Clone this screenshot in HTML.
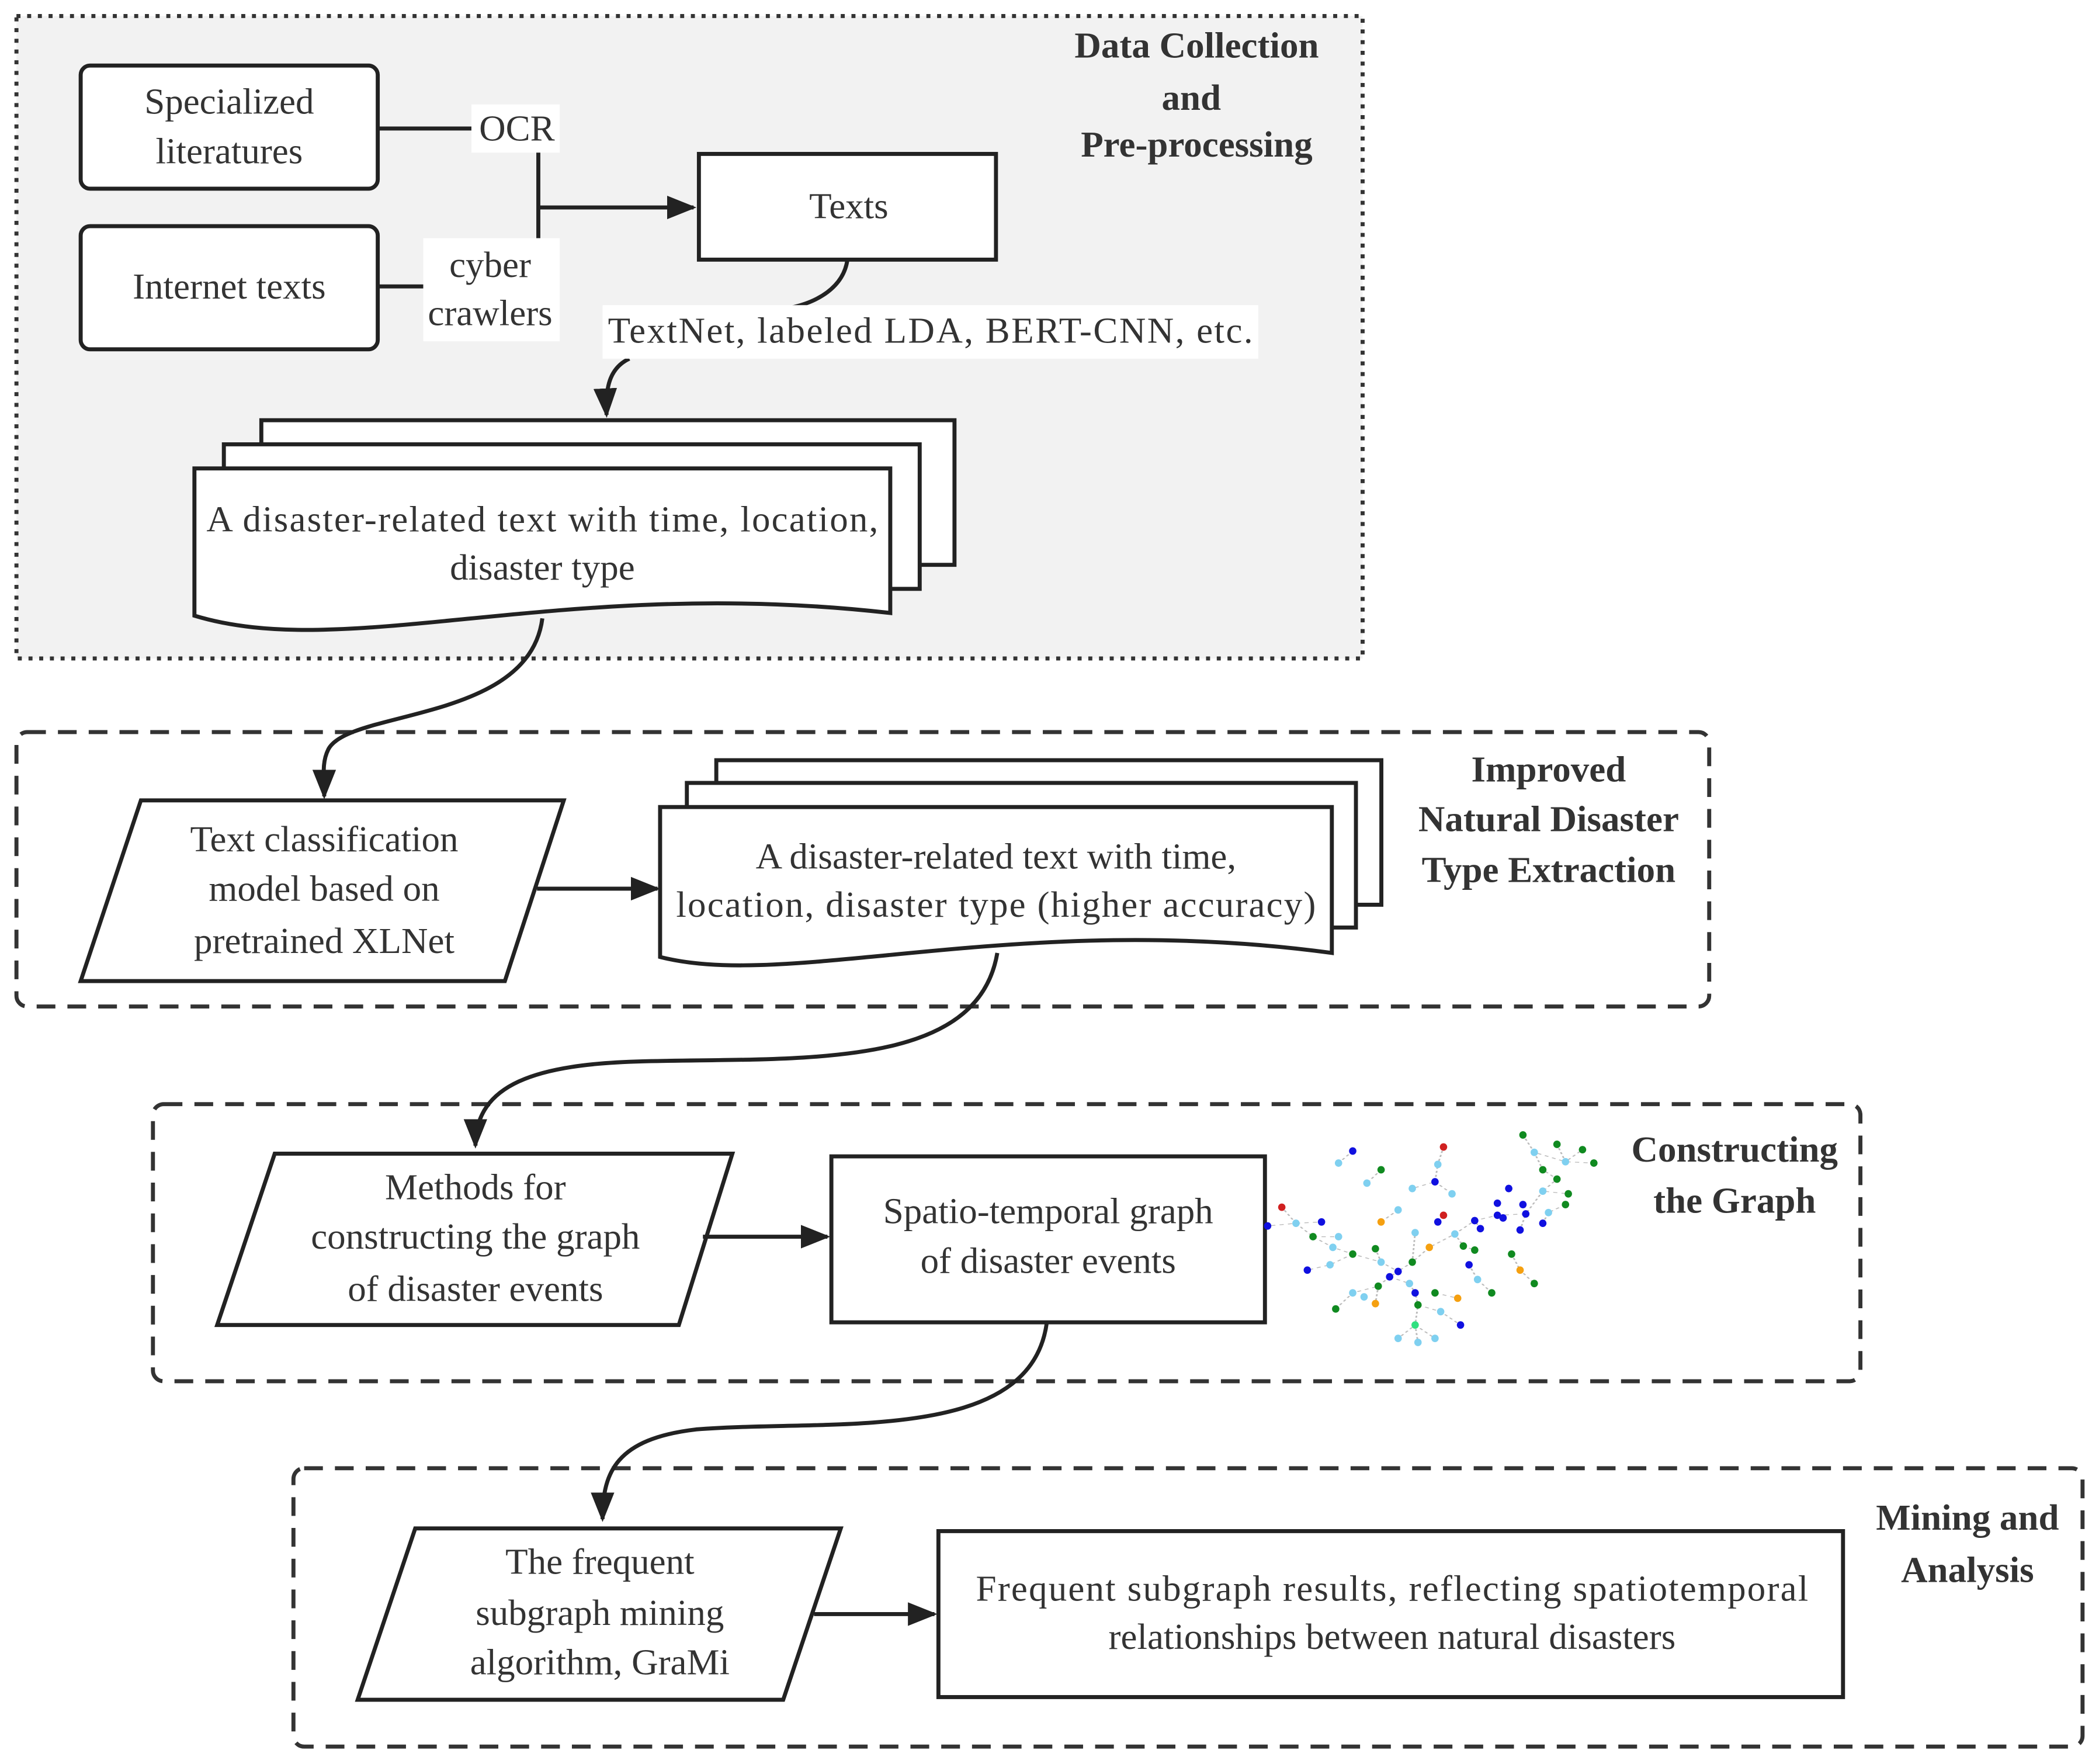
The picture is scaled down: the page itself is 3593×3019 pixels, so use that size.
<!DOCTYPE html>
<html><head><meta charset="utf-8"><style>html,body{margin:0;padding:0;background:#fff}svg{display:block}svg text{font-family:"Liberation Serif","DejaVu Serif",serif}</style></head>
<body>
<svg width="3593" height="3019" viewBox="0 0 1568 1318" xmlns="http://www.w3.org/2000/svg" font-size="27.5" fill="none">
<defs>
<marker id="b" viewBox="0 0 10 10" refX="9" refY="5" markerWidth="22" markerHeight="22" markerUnits="userSpaceOnUse" orient="auto"><path d="M0,1 L10,5 L0,9 z" fill="#222"/></marker>
</defs>
<g stroke="#222" stroke-width="3">
<rect x="12" y="12" width="1006" height="480" fill="#f2f2f2" stroke="#333" stroke-dasharray="3,5"/>
<rect x="12" y="547" width="1265" height="205" rx="8" stroke="#333" stroke-dasharray="14,9"/>
<rect x="114" y="825" width="1276" height="207" rx="8" stroke="#333" stroke-dasharray="14,9"/>
<rect x="219" y="1097" width="1337" height="208" rx="8" stroke="#333" stroke-dasharray="14,9"/>

<rect x="60" y="49" width="222" height="92" rx="7" fill="#fff"/>
<rect x="60" y="169" width="222" height="92" rx="7" fill="#fff"/>
<rect x="522" y="115" width="222" height="79" fill="#fff"/>
<line x1="282" y1="96" x2="352" y2="96"/>
<line x1="282" y1="214" x2="316" y2="214"/>
<line x1="402" y1="114" x2="402" y2="178"/>
<line x1="402" y1="155" x2="518" y2="155" marker-end="url(#b)"/>
<path d="M633,194 C630,215 610,226 590,230"/>
<path d="M470,268 C455,275 452,290 453,310" marker-end="url(#b)"/>

<path d="M195,332 V314 H713 V422 H687" fill="#fff"/>
<path d="M167,350 V332 H687 V440 H665" fill="#fff"/>
<path d="M145,350 H665 V458 C420,430 260,495 145,460 Z" fill="#fff"/>
<path d="M405,462 C395,540 260,530 245,560 C240,570 242,580 242,595" marker-end="url(#b)"/>

<path d="M105,598 H421 L377,733 H60 Z" fill="#fff"/>
<line x1="401" y1="664" x2="491" y2="664" marker-end="url(#b)"/>
<path d="M535,585 V568 H1032 V676 H1013" fill="#fff"/>
<path d="M513,603 V585 H1013 V693 H995" fill="#fff"/>
<path d="M493,603 H995 V712 C760,680 590,740 493,715 Z" fill="#fff"/>
<path d="M745,712 C730,800 600,790 480,793 C400,795 355,810 355,856" marker-end="url(#b)"/>

<path d="M205,862 H547 L507,990 H162 Z" fill="#fff"/>
<line x1="525" y1="924" x2="618" y2="924" marker-end="url(#b)"/>
<rect x="621" y="864" width="324" height="124" fill="#fff"/>
<path d="M782,988 C770,1080 620,1060 520,1068 C460,1075 450,1100 450,1135" marker-end="url(#b)"/>

<path d="M310,1142 H628 L585,1270 H267 Z" fill="#fff"/>
<line x1="608" y1="1206" x2="698" y2="1206" marker-end="url(#b)"/>
<rect x="701" y="1144" width="676" height="124" fill="#fff"/>
</g>

<rect x="352" y="78" width="66" height="36" fill="#fff"/>
<rect x="316" y="178" width="102" height="77" fill="#fff"/>
<rect x="450" y="228" width="490" height="40" fill="#fff"/>

<g fill="#333" text-anchor="middle">
<text x="171" y="85">Specialized</text><text x="171" y="122">literatures</text>
<text x="171" y="223">Internet texts</text>
<text x="386" y="105">OCR</text>
<text x="366" y="207">cyber</text><text x="366" y="243">crawlers</text>
<text x="634" y="163">Texts</text>
<text x="695" y="256" textLength="482">TextNet, labeled LDA, BERT-CNN, etc.</text>
<text x="405" y="397" textLength="502">A disaster-related text with time, location,</text><text x="405" y="433">disaster type</text>
<text x="242" y="636">Text classification</text><text x="242" y="673">model based on</text><text x="242" y="712">pretrained XLNet</text>
<text x="744" y="649">A disaster-related text with time,</text><text x="744" y="685" textLength="478">location, disaster type (higher accuracy)</text>
<text x="355" y="896">Methods for</text><text x="355" y="933">constructing the graph</text><text x="355" y="972">of disaster events</text>
<text x="783" y="914">Spatio-temporal graph</text><text x="783" y="951">of disaster events</text>
<text x="448" y="1176">The frequent</text><text x="448" y="1214">subgraph mining</text><text x="448" y="1251">algorithm, GraMi</text>
<text x="1040" y="1196" textLength="622">Frequent subgraph results, reflecting spatiotemporal</text><text x="1040" y="1232">relationships between natural disasters</text>
</g>
<g fill="#333" text-anchor="middle" font-weight="bold">
<text x="894" y="43">Data Collection</text><text x="890" y="82">and</text><text x="894" y="117">Pre-processing</text>
<text x="1157" y="584">Improved</text><text x="1157" y="621">Natural Disaster</text><text x="1157" y="659">Type Extraction</text>
<text x="1296" y="868">Constructing</text><text x="1296" y="906">the Graph</text>
<text x="1470" y="1143">Mining and</text><text x="1470" y="1182">Analysis</text>
</g>

<g transform="translate(947,0) scale(2.12,1) translate(-947,0)">
<g stroke="#bbb" stroke-width="0.6" stroke-dasharray="1.5,1.5">
<path d="M977,860 L972,869 M987,874 L982,884 M1009,857 L1007,870 L1006,883 L998,888 M1006,883 L1012,892 M1037,848 L1041,861 L1052,868 L1062,869 M1049,855 L1052,868 L1058,859 M1041,861 L1044,874 L1049,881 L1044,890 L1053,892 M1044,890 L1038,907 L1028,908 L1020,912 L1013,922 L1004,932 L998,943 L990,954 L993,950 L987,943 L977,937 L970,932 L963,924 L957,914 L947,916 M957,914 L952,902 M957,914 L966,913 M963,924 L972,924 M977,937 L969,945 L961,949 M990,954 L997,959 L999,966 L1000,975 L999,990 L993,1000 M999,990 L1000,1003 M999,990 L1006,1000 M1000,975 L1008,980 L1015,990 M1013,922 L1016,931 L1020,934 M1018,945 L1021,956 L1026,966 M1033,937 L1036,949 L1041,959 M990,954 L986,961 L977,966 L971,978 M986,961 L985,974 M1044,914 L1046,906 L1052,900 M1036,919 L1038,907 M993,904 L987,913 M1007,913 L1009,908 M1022,918 L1020,912 M985,933 L987,943 M998,943 L999,921 M1006,966 L1014,970"/>
</g>
<g transform="scale(1,1)">
<g id="dots">
<ellipse cx="977" cy="860" rx="1.3" ry="2.8" fill="#1010e0"/><ellipse cx="972" cy="869" rx="1.3" ry="2.8" fill="#7fd0f0"/><ellipse cx="987" cy="874" rx="1.3" ry="2.8" fill="#108a20"/><ellipse cx="982" cy="884" rx="1.3" ry="2.8" fill="#7fd0f0"/>
<ellipse cx="1009" cy="857" rx="1.3" ry="2.8" fill="#d02020"/><ellipse cx="1007" cy="870" rx="1.3" ry="2.8" fill="#7fd0f0"/><ellipse cx="1006" cy="883" rx="1.3" ry="2.8" fill="#1010e0"/><ellipse cx="998" cy="888" rx="1.3" ry="2.8" fill="#7fd0f0"/><ellipse cx="1012" cy="892" rx="1.3" ry="2.8" fill="#7fd0f0"/>
<ellipse cx="1037" cy="848" rx="1.3" ry="2.8" fill="#108a20"/><ellipse cx="1049" cy="855" rx="1.3" ry="2.8" fill="#108a20"/><ellipse cx="1058" cy="859" rx="1.3" ry="2.8" fill="#108a20"/><ellipse cx="1041" cy="861" rx="1.3" ry="2.8" fill="#7fd0f0"/><ellipse cx="1052" cy="868" rx="1.3" ry="2.8" fill="#7fd0f0"/><ellipse cx="1062" cy="869" rx="1.3" ry="2.8" fill="#108a20"/><ellipse cx="1044" cy="874" rx="1.3" ry="2.8" fill="#108a20"/><ellipse cx="1049" cy="881" rx="1.3" ry="2.8" fill="#108a20"/>
<ellipse cx="1032" cy="888" rx="1.3" ry="2.8" fill="#1010e0"/><ellipse cx="1044" cy="890" rx="1.3" ry="2.8" fill="#7fd0f0"/><ellipse cx="1053" cy="892" rx="1.3" ry="2.8" fill="#108a20"/><ellipse cx="1052" cy="900" rx="1.3" ry="2.8" fill="#108a20"/><ellipse cx="1028" cy="899" rx="1.3" ry="2.8" fill="#1010e0"/><ellipse cx="1037" cy="900" rx="1.3" ry="2.8" fill="#1010e0"/><ellipse cx="1038" cy="907" rx="1.3" ry="2.8" fill="#1010e0"/><ellipse cx="1046" cy="906" rx="1.3" ry="2.8" fill="#7fd0f0"/><ellipse cx="1028" cy="908" rx="1.3" ry="2.8" fill="#1010e0"/><ellipse cx="1030" cy="910" rx="1.3" ry="2.8" fill="#1010e0"/><ellipse cx="1044" cy="914" rx="1.3" ry="2.8" fill="#1010e0"/><ellipse cx="1036" cy="919" rx="1.3" ry="2.8" fill="#1010e0"/>
<ellipse cx="1020" cy="912" rx="1.3" ry="2.8" fill="#1010e0"/><ellipse cx="1022" cy="918" rx="1.3" ry="2.8" fill="#1010e0"/><ellipse cx="1009" cy="908" rx="1.3" ry="2.8" fill="#d02020"/><ellipse cx="1007" cy="913" rx="1.3" ry="2.8" fill="#1010e0"/><ellipse cx="993" cy="904" rx="1.3" ry="2.8" fill="#7fd0f0"/><ellipse cx="987" cy="913" rx="1.3" ry="2.8" fill="#f5a010"/>
<ellipse cx="952" cy="902" rx="1.3" ry="2.8" fill="#d02020"/><ellipse cx="947" cy="916" rx="1.3" ry="2.8" fill="#1010e0"/><ellipse cx="957" cy="914" rx="1.3" ry="2.8" fill="#7fd0f0"/><ellipse cx="966" cy="913" rx="1.3" ry="2.8" fill="#1010e0"/><ellipse cx="963" cy="924" rx="1.3" ry="2.8" fill="#108a20"/><ellipse cx="972" cy="924" rx="1.3" ry="2.8" fill="#7fd0f0"/><ellipse cx="970" cy="932" rx="1.3" ry="2.8" fill="#7fd0f0"/><ellipse cx="977" cy="937" rx="1.3" ry="2.8" fill="#108a20"/><ellipse cx="969" cy="945" rx="1.3" ry="2.8" fill="#7fd0f0"/><ellipse cx="961" cy="949" rx="1.3" ry="2.8" fill="#1010e0"/>
<ellipse cx="985" cy="933" rx="1.3" ry="2.8" fill="#108a20"/><ellipse cx="987" cy="943" rx="1.3" ry="2.8" fill="#7fd0f0"/><ellipse cx="993" cy="950" rx="1.3" ry="2.8" fill="#1010e0"/><ellipse cx="990" cy="954" rx="1.3" ry="2.8" fill="#1010e0"/><ellipse cx="998" cy="943" rx="1.3" ry="2.8" fill="#108a20"/><ellipse cx="1004" cy="932" rx="1.3" ry="2.8" fill="#f5a010"/><ellipse cx="999" cy="921" rx="1.3" ry="2.8" fill="#7fd0f0"/><ellipse cx="1013" cy="922" rx="1.3" ry="2.8" fill="#7fd0f0"/><ellipse cx="1016" cy="931" rx="1.3" ry="2.8" fill="#108a20"/><ellipse cx="1020" cy="934" rx="1.3" ry="2.8" fill="#108a20"/><ellipse cx="1033" cy="937" rx="1.3" ry="2.8" fill="#108a20"/>
<ellipse cx="1018" cy="945" rx="1.3" ry="2.8" fill="#1010e0"/><ellipse cx="1036" cy="949" rx="1.3" ry="2.8" fill="#f5a010"/><ellipse cx="1041" cy="959" rx="1.3" ry="2.8" fill="#108a20"/><ellipse cx="1021" cy="956" rx="1.3" ry="2.8" fill="#7fd0f0"/><ellipse cx="1026" cy="966" rx="1.3" ry="2.8" fill="#108a20"/>
<ellipse cx="997" cy="959" rx="1.3" ry="2.8" fill="#7fd0f0"/><ellipse cx="986" cy="961" rx="1.3" ry="2.8" fill="#108a20"/><ellipse cx="977" cy="966" rx="1.3" ry="2.8" fill="#7fd0f0"/><ellipse cx="981" cy="969" rx="1.3" ry="2.8" fill="#7fd0f0"/><ellipse cx="985" cy="974" rx="1.3" ry="2.8" fill="#f5a010"/><ellipse cx="971" cy="978" rx="1.3" ry="2.8" fill="#108a20"/><ellipse cx="999" cy="966" rx="1.3" ry="2.8" fill="#1010e0"/><ellipse cx="1006" cy="966" rx="1.3" ry="2.8" fill="#108a20"/><ellipse cx="1014" cy="970" rx="1.3" ry="2.8" fill="#f5a010"/><ellipse cx="1000" cy="975" rx="1.3" ry="2.8" fill="#108a20"/><ellipse cx="1008" cy="980" rx="1.3" ry="2.8" fill="#7fd0f0"/><ellipse cx="1015" cy="990" rx="1.3" ry="2.8" fill="#1010e0"/>
<ellipse cx="999" cy="990" rx="1.3" ry="2.8" fill="#30e080"/><ellipse cx="993" cy="1000" rx="1.3" ry="2.8" fill="#7fd0f0"/><ellipse cx="1000" cy="1003" rx="1.3" ry="2.8" fill="#7fd0f0"/><ellipse cx="1006" cy="1000" rx="1.3" ry="2.8" fill="#7fd0f0"/>
</g>
</g>
</g>
</svg>
</body></html>
